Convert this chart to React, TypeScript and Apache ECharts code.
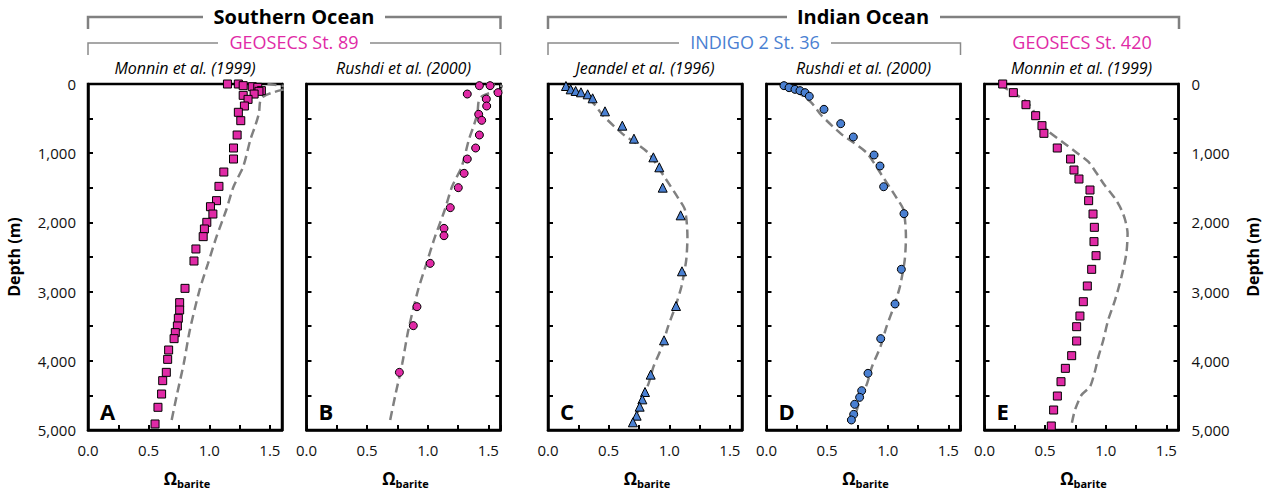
import React, { useEffect, useRef } from "react";
import * as echarts from "echarts";

// ---------- DATA ----------
// Panel A: Southern Ocean, GEOSECS St. 89, Monnin et al. (1999)
const aOmega = [1.15, 1.24, 1.28, 1.355, 1.4, 1.43, 1.41, 1.37, 1.28, 1.32, 1.29, 1.24, 1.26, 1.23, 1.2, 1.2, 1.12, 1.08, 1.06, 1.01, 1.03, 0.98, 0.96, 0.95, 0.89, 0.874, 0.8, 0.756, 0.756, 0.745, 0.737, 0.72, 0.71, 0.665, 0.657, 0.646, 0.616, 0.607, 0.577, 0.553];
const aDepth = [0, 0, 24, 39, 48, 96, 106, 145, 164, 222, 318, 409, 530, 737, 925, 1084, 1272, 1479, 1686, 1773, 1879, 1999, 2095, 2206, 2384, 2558, 2953, 3160, 3266, 3386, 3497, 3593, 3680, 3844, 3979, 4167, 4287, 4480, 4672, 4913];
// Panel B: Southern Ocean, GEOSECS St. 89, Rushdi et al. (2000)
const bOmega = [1.426, 1.514, 1.58, 1.326, 1.483, 1.486, 1.42, 1.445, 1.426, 1.395, 1.326, 1.3, 1.252, 1.186, 1.134, 1.134, 1.02, 0.911, 0.881, 0.766];
const bDepth = [24, 24, 125, 145, 217, 318, 438, 525, 737, 925, 1084, 1291, 1498, 1787, 2086, 2192, 2592, 3218, 3492, 4167];
// Model profile, GEOSECS St. 89
const soModelOmega = [1.48, 1.6, 1.66, 1.6, 1.52, 1.45, 1.42, 1.41, 1.38, 1.34, 1.28, 1.2, 1.14, 1.06, 0.99, 0.92, 0.84, 0.79, 0.73, 0.69];
const soModelDepth = [0, 25, 60, 85, 125, 175, 250, 420, 600, 800, 1195, 1484, 1821, 2206, 2592, 2977, 3555, 4036, 4518, 4855];
// Panel C: Indian Ocean, INDIGO 2 St. 36, Jeandel et al. (1996)
const cOmega = [0.148, 0.187, 0.228, 0.272, 0.327, 0.368, 0.47, 0.613, 0.709, 0.869, 0.918, 0.946, 1.094, 1.105, 1.056, 0.957, 0.847, 0.8, 0.778, 0.756, 0.731, 0.7];
const cDepth = [29, 77, 101, 120, 149, 207, 395, 602, 790, 1060, 1204, 1498, 1898, 2707, 3208, 3704, 4200, 4451, 4557, 4663, 4793, 4889];
// Panel D: Indian Ocean, INDIGO 2 St. 36, Rushdi et al. (2000)
const dOmega = [0.144, 0.186, 0.235, 0.276, 0.318, 0.353, 0.474, 0.612, 0.716, 0.887, 0.936, 0.966, 1.134, 1.112, 1.06, 0.942, 0.837, 0.785, 0.768, 0.727, 0.719, 0.7];
const dDepth = [24, 53, 77, 96, 125, 178, 366, 573, 766, 1026, 1185, 1484, 1874, 2678, 3179, 3680, 4181, 4432, 4528, 4629, 4774, 4855];
// Model profile, INDIGO 2 St. 36
const ioModelOmega = [0.14, 0.25, 0.37, 0.45, 0.61, 0.72, 0.83, 0.95, 1.075, 1.13, 1.15, 1.14, 1.1, 1.05, 0.99, 0.94, 0.87, 0.83, 0.77, 0.73];
const ioModelDepth = [14, 110, 270, 448, 713, 850, 1002, 1315, 1652, 1821, 2206, 2543, 2929, 3218, 3507, 3796, 4085, 4326, 4567, 4807];
// Panel E: Indian Ocean, GEOSECS St. 420, Monnin et al. (1999)
const eOmega = [0.15, 0.238, 0.342, 0.422, 0.474, 0.49, 0.6, 0.71, 0.738, 0.779, 0.87, 0.859, 0.895, 0.906, 0.903, 0.92, 0.884, 0.848, 0.815, 0.787, 0.76, 0.76, 0.719, 0.667, 0.631, 0.601, 0.57, 0.551];
const eDepth = [0, 125, 299, 458, 602, 713, 925, 1084, 1243, 1373, 1532, 1686, 1879, 2071, 2278, 2481, 2678, 2919, 3146, 3353, 3507, 3714, 3926, 4109, 4302, 4509, 4711, 4942];
// Model profile, GEOSECS St. 420
const e420ModelOmega = [0.13, 0.24, 0.36, 0.5, 0.64, 0.75, 0.856, 0.925, 0.99, 1.076, 1.13, 1.16, 1.18, 1.17, 1.13, 1.077, 1.02, 0.98, 0.94, 0.91, 0.87, 0.8, 0.746, 0.72];
const e420ModelDepth = [14, 130, 279, 641, 833, 978, 1122, 1291, 1460, 1652, 1821, 1965, 2158, 2447, 2784, 3121, 3410, 3700, 3940, 4157, 4374, 4494, 4711, 4904];

const panelLetters = ["A", "B", "C", "D", "E"];
const panelAuthors = ["Monnin et al. (1999)", "Rushdi et al. (2000)", "Jeandel et al. (1996)", "Rushdi et al. (2000)", "Monnin et al. (1999)"];
const xLabelValues = [0, 0.5, 1, 1.5];
const depthLabelValues = [0, 1000, 2000, 3000, 4000, 5000];

// ---------- STYLE / LAYOUT ----------
const FONT = "'Open Sans', 'Noto Sans', 'DejaVu Sans', sans-serif";
const MAGENTA = "#E02AA6";
const BLUE = "#4A80D2";
const GRAY = "#808080";
const PANEL_LEFT = [88, 306.5, 548, 766.5, 984.5];
const PANEL_W = 194;
const PANEL_TOP = 84;
const PANEL_H = 346;

const zip = (xs: number[], ys: number[]) => xs.map((x, i) => [x, ys[i]]);

export default function App() {
  const ref = useRef<HTMLDivElement>(null);
  useEffect(() => {
    if (!ref.current) return;
    const chart = echarts.init(ref.current, null, { renderer: "svg" });

    const panels = [
      { pts: zip(aOmega, aDepth), model: zip(soModelOmega, soModelDepth), symbol: "rect", color: MAGENTA },
      { pts: zip(bOmega, bDepth), model: zip(soModelOmega, soModelDepth), symbol: "circle", color: MAGENTA },
      { pts: zip(cOmega, cDepth), model: zip(ioModelOmega, ioModelDepth), symbol: "triangle", color: BLUE },
      { pts: zip(dOmega, dDepth), model: zip(ioModelOmega, ioModelDepth), symbol: "circle", color: BLUE },
      { pts: zip(eOmega, eDepth), model: zip(e420ModelOmega, e420ModelDepth), symbol: "rect", color: MAGENTA },
    ];

    const grids: any[] = [];
    const xAxes: any[] = [];
    const yAxes: any[] = [];
    const series: any[] = [];
    const graphics: any[] = [];

    const axisLine = { show: true, onZero: false, lineStyle: { color: "#000", width: 2.5 } };
    const depthFmt = (v: number) => (depthLabelValues.includes(v) ? v.toLocaleString("en-US") : "");
    const xFmt = (v: number) => (xLabelValues.some((t) => Math.abs(t - v) < 1e-6) ? v.toFixed(1) : "");

    panels.forEach((p, i) => {
      const left = PANEL_LEFT[i];
      const cx = left + PANEL_W / 2;
      grids.push({
        left,
        top: PANEL_TOP,
        width: PANEL_W,
        height: PANEL_H,
        show: true,
        borderColor: "#000",
        borderWidth: 2.5,
        backgroundColor: "transparent",
        containLabel: false,
      });
      xAxes.push({
        type: "value",
        gridIndex: i,
        min: 0,
        max: 1.6,
        interval: 0.25,
        axisLine,
        axisTick: { show: true, inside: true, length: 5, lineStyle: { color: "#000", width: 2 } },
        axisLabel: { formatter: xFmt, fontSize: 15, color: "#111", fontFamily: FONT, margin: 12, hideOverlap: false, showMinLabel: true, showMaxLabel: true },
        splitLine: { show: false },
      });
      yAxes.push({
        type: "value",
        gridIndex: i,
        min: 0,
        max: 5000,
        interval: 500,
        inverse: true,
        position: "left",
        axisLine,
        axisTick: { show: true, inside: true, length: 5, lineStyle: { color: "#000", width: 2 } },
        axisLabel: { show: i === 0, formatter: depthFmt, fontSize: 15, color: "#111", fontFamily: FONT, margin: 12 },
        splitLine: { show: false },
        name: i === 0 ? "Depth (m)" : "",
        nameLocation: "middle",
        nameGap: 66,
        nameRotate: 90,
        nameTextStyle: { fontSize: 16, fontWeight: "bold", color: "#000", fontFamily: FONT },
      });
      yAxes.push({
        type: "value",
        gridIndex: i,
        min: 0,
        max: 5000,
        interval: 500,
        inverse: true,
        position: "right",
        axisLine,
        axisTick: { show: i !== 0, inside: true, length: 5, lineStyle: { color: "#000", width: 2 } },
        axisLabel: { show: i === 4, formatter: depthFmt, fontSize: 15, color: "#111", fontFamily: FONT, margin: 13 },
        splitLine: { show: false },
        name: i === 4 ? "Depth (m)" : "",
        nameLocation: "middle",
        nameGap: 66,
        nameRotate: 90,
        nameTextStyle: { fontSize: 16, fontWeight: "bold", color: "#000", fontFamily: FONT },
      });
      series.push({
        type: "line",
        xAxisIndex: i,
        yAxisIndex: i * 2,
        data: p.model,
        symbol: "none",
        smooth: 0.25,
        clip: true,
        silent: true,
        z: 1,
        lineStyle: { color: GRAY, width: 2.5, type: [9, 5] },
      });
      series.push({
        type: "scatter",
        xAxisIndex: i,
        yAxisIndex: i * 2,
        data: p.pts,
        symbol: p.symbol,
        symbolSize: p.symbol === "triangle" ? 9 : 8,
        clip: false,
        z: 2,
        itemStyle: { color: p.color, borderColor: "#000", borderWidth: 1, opacity: 1 },
      });
      // author label
      graphics.push({
        type: "text",
        x: cx,
        y: 68,
        style: { text: panelAuthors[i], fill: "#000", fontSize: 16, fontStyle: "italic", fontFamily: FONT, align: "center", verticalAlign: "middle" },
      });
      // panel letter
      graphics.push({
        type: "text",
        x: left + 12,
        y: 411,
        style: { text: panelLetters[i], fill: "#000", fontSize: 22, fontWeight: "bold", fontFamily: FONT, align: "left", verticalAlign: "middle" },
      });
      // Omega barite label
      graphics.push({
        type: "text",
        x: cx - 8,
        y: 478,
        style: { text: "Ω", fill: "#000", fontSize: 17, fontWeight: "bold", fontFamily: FONT, align: "right", verticalAlign: "middle" },
      });
      graphics.push({
        type: "text",
        x: cx - 8,
        y: 483,
        style: { text: "barite", fill: "#000", fontSize: 11, fontWeight: "bold", fontFamily: FONT, align: "left", verticalAlign: "middle" },
      });
    });

    const bracket = (pts: number[][], w: number, color: string) => ({
      type: "polyline",
      shape: { points: pts },
      style: { stroke: color, lineWidth: w, fill: null },
      silent: true,
    });
    const header = (text: string, x: number, y: number, size: number, color: string, bold: boolean) => ({
      type: "text",
      x,
      y,
      style: { text, fill: color, fontSize: size, fontWeight: bold ? "bold" : "normal", fontFamily: FONT, align: "center", verticalAlign: "middle" },
    });

    graphics.push(bracket([[88, 29], [88, 17], [203, 17]], 2.5, GRAY));
    graphics.push(bracket([[385, 17], [500.5, 17], [500.5, 29]], 2.5, GRAY));
    graphics.push(header("Southern Ocean", 294, 16, 20, "#000", true));
    graphics.push(bracket([[88, 55], [88, 43], [218, 43]], 1.5, "#8a8a8a"));
    graphics.push(bracket([[370, 43], [500.5, 43], [500.5, 55]], 1.5, "#8a8a8a"));
    graphics.push(header("GEOSECS St. 89", 294, 42, 18, MAGENTA, false));

    graphics.push(bracket([[548, 29], [548, 17], [787, 17]], 2.5, GRAY));
    graphics.push(bracket([[940, 17], [1179, 17], [1179, 29]], 2.5, GRAY));
    graphics.push(header("Indian Ocean", 863, 16, 20, "#000", true));
    graphics.push(bracket([[548, 55], [548, 43], [679, 43]], 1.5, "#8a8a8a"));
    graphics.push(bracket([[831, 43], [960.5, 43], [960.5, 55]], 1.5, "#8a8a8a"));
    graphics.push(header("INDIGO 2 St. 36", 755, 42, 18, BLUE, false));
    graphics.push(header("GEOSECS St. 420", 1082, 42, 18, MAGENTA, false));

    chart.setOption({
      animation: false,
      backgroundColor: "#fff",
      textStyle: { fontFamily: FONT },
      grid: grids,
      xAxis: xAxes,
      yAxis: yAxes,
      series,
      graphic: { elements: graphics },
    });
    return () => chart.dispose();
  }, []);

  return <div ref={ref} style={{ position: "fixed", left: 0, top: 0, width: 1265, height: 489, background: "#fff" }} />;
}
